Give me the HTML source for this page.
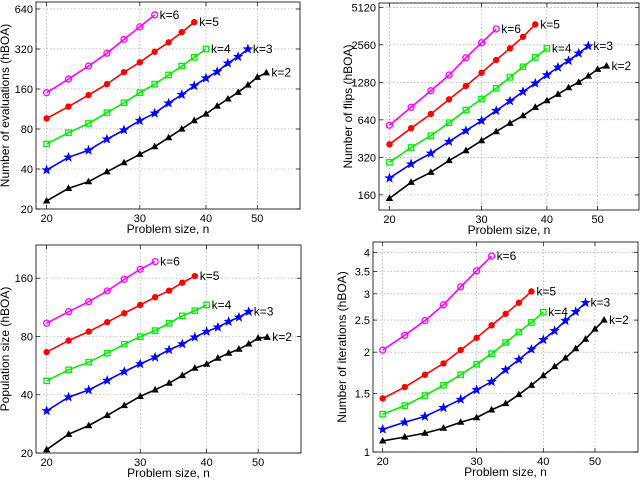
<!DOCTYPE html>
<html><head><meta charset="utf-8"><style>
html,body{margin:0;padding:0;background:#fff;}
svg{display:block;font-family:"Liberation Sans",sans-serif;}
</style></head><body>
<svg id="fig" width="640" height="480" viewBox="0 0 640 480"></svg>
<script>
const xValues = {
  k6: [20,22,24,26,28,30,32],
  k5: [20,22,24,26,28,30,32,34,36,38],
  k4: [20,22,24,26,28,30,32,34,36,38,40],
  k3: [20,22,24,26,28,30,32,34,36,38,40,42,44,46,48],
  k2: [20,22,24,26,28,30,32,34,36,38,40,42,44,46,48,50,52]
};
const evalK6 = [150,190,238,297,378,469,577];
const evalK5 = [96,118,144,174,214,254,305,359,428,509];
const evalK4 = [61.7,75,88,106,126,150,174,204,238,277,319];
const evalK3 = [39.3,49,55.3,67,78.6,92.4,105,125,145,169,193,216,250,280,319];
const evalK2 = [23,28.6,32.1,38.1,44.6,51.6,58.9,68.8,80,92.4,103.7,119.2,134.6,151,171.5,196,212];
const flipK6 = [579,807,1094,1466,2015,2660,3429];
const flipK5 = [407,548,713,934,1195,1527,1932,2398,2970,3735];
const flipK4 = [292,384,478,607,767,940,1146,1403,1705,2029,2398];
const flipK3 = [218,283,345,428,524,630,758,907,1077,1257,1466,1690,1910,2188,2504];
const flipK2 = [150,202,243,302,362,436,515,601,691,807,912,1026,1159,1280,1439,1628,1730];
const popK6 = [93.7,107.5,121,137.5,158,178,195];
const popK5 = [66.4,76.2,84.8,94.8,105.5,116.4,127.6,138,151.7,164];
const popK4 = [47.2,53.8,58.9,65.6,73,79.9,85.8,93.7,102.2,108.8,116.4];
const popK3 = [33,38.9,42.3,47.4,52.7,57.7,62.5,68.2,73.2,79.3,84.8,89.3,95.5,100.6,107.5];
const popK2 = [20.8,25,27.7,31.3,35.2,39.2,42.4,45.9,50.3,54.9,57.6,61.8,65.6,68.8,73.2,78.4,79.3];
const iterK6 = [2.03,2.25,2.49,2.78,3.15,3.52,3.90];
const iterK5 = [1.45,1.57,1.71,1.85,2.03,2.21,2.41,2.61,2.82,3.05];
const iterK4 = [1.30,1.38,1.48,1.59,1.71,1.84,1.98,2.14,2.30,2.46,2.64];
const iterK3 = [1.17,1.23,1.28,1.36,1.44,1.54,1.63,1.77,1.90,2.04,2.18,2.32,2.49,2.65,2.82];
const iterK2 = [1.08,1.11,1.14,1.18,1.23,1.27,1.34,1.40,1.49,1.59,1.70,1.81,1.92,2.05,2.19,2.35,2.50];
const xTicks = [20,30,40,50];
const evalTicks = [20,40,80,160,320,640];
const flipTicks = [160,320,640,1280,2560,5120];
const popTicks = [20,40,80,160];
const iterTicks = [1,1.5,2,2.5,3,3.5,4];
const seriesLabels = ["k=6","k=5","k=4","k=3","k=2"];

const NS="http://www.w3.org/2000/svg";
const svg=document.getElementById('fig');
function mk(tag,attrs,parent){const e=document.createElementNS(NS,tag);for(const k in attrs)e.setAttribute(k,attrs[k]);(parent||svg).appendChild(e);return e;}

const styles=[
 {color:"#ff00ff",marker:"ocircle"},
 {color:"#ff0000",marker:"fcircle"},
 {color:"#00ee00",marker:"osquare"},
 {color:"#0000ff",marker:"star"},
 {color:"#000000",marker:"triangle"}
];

function drawMarker(g,type,cx,cy,c){
  let m;
  if(type==="ocircle") m=mk('circle',{cx,cy,r:3,fill:'none',stroke:c,'stroke-width':1.3},g);
  else if(type==="fcircle") m=mk('circle',{cx,cy,r:2.7,fill:c,stroke:c},g);
  else if(type==="osquare") m=mk('rect',{x:cx-2.7,y:cy-2.7,width:5.4,height:5.4,fill:'none',stroke:c,'stroke-width':1.3},g);
  else if(type==="triangle") m=mk('polygon',{points:`${cx},${cy-4} ${cx-3.7},${cy+2.6} ${cx+3.7},${cy+2.6}`,fill:c},g);
  else {
    let p=[];for(let i=0;i<10;i++){const a=-Math.PI/2+i*Math.PI/5;const r=i%2?1.9:4.6;p.push((cx+r*Math.cos(a)).toFixed(1)+','+(cy+r*Math.sin(a)).toFixed(1));}
    m=mk('polygon',{points:p.join(' '),fill:c,stroke:c,'stroke-width':0.6},g);
  }
  
  
}

function panel(cfg){
  const {name,L,R,T,B,xmin,xmax,ymin,ymax,yTicks,ylabel,series}=cfg;
  const g=mk('g',{});
  
  
  const sx=v=>L+(Math.log(v/xmin))/Math.log(xmax/xmin)*(R-L);
  const sy=v=>B-(Math.log(v/ymin))/Math.log(ymax/ymin)*(B-T);
  mk('rect',{x:L,y:T,width:R-L,height:B-T,fill:'#fff'},g);
  xTicks.forEach(t=>{const x=sx(t);
    const gl=mk('line',{x1:x,x2:x,y1:T,y2:B,stroke:'#999','stroke-width':0.6,'stroke-dasharray':'1.5,2'},g);
    
    
    mk('line',{x1:x,x2:x,y1:B,y2:B-4,stroke:'#000','stroke-width':0.7},g);
    mk('line',{x1:x,x2:x,y1:T,y2:T+4,stroke:'#000','stroke-width':0.7},g);
    const tl=mk('text',{x:x,y:B+13,'font-size':11,'text-anchor':'middle',fill:'#000'},g);tl.textContent=t;
    
    
  });
  yTicks.forEach(t=>{const y=sy(t);
    const gl=mk('line',{x1:L,x2:R,y1:y,y2:y,stroke:'#999','stroke-width':0.6,'stroke-dasharray':'1.5,2'},g);
    
    
    mk('line',{x1:L,x2:L+4,y1:y,y2:y,stroke:'#000','stroke-width':0.7},g);
    mk('line',{x1:R,x2:R-4,y1:y,y2:y,stroke:'#000','stroke-width':0.7},g);
    const tl=mk('text',{x:L-3,y:y+4,'font-size':11,'text-anchor':'end',fill:'#000'},g);tl.textContent=t;
    
    
  });
  mk('rect',{x:L,y:T,width:R-L,height:B-T,fill:'none',stroke:'#000','stroke-width':0.8},g);
  const xl=mk('text',{x:(L+R)/2,y:B+24,'font-size':12,'text-anchor':'middle',fill:'#000'},g);xl.textContent='Problem size, n';
  
  
  const yx=L-27, yc=(T+B)/2;
  const yl=mk('text',{x:yx,y:yc,'font-size':12,'text-anchor':'middle',fill:'#000',transform:`rotate(-90 ${yx} ${yc})`},g);yl.textContent=ylabel;
  
  
  const keys=['k6','k5','k4','k3','k2'];
  series.forEach((vals,i)=>{
    const xs=xValues[keys[i]];const st=styles[i];
    const sg=mk('g',{},g);
    
    
    const pts=vals.map((v,j)=>sx(xs[j]).toFixed(1)+','+sy(v).toFixed(1)).join(' ');
    const pl=mk('polyline',{points:pts,fill:'none',stroke:st.color,'stroke-width':1.6},sg);
    
    
    vals.forEach((v,j)=>drawMarker(sg,st.marker,sx(xs[j]),sy(v),st.color));
    const lx=sx(xs[xs.length-1])+5, ly=sy(vals[vals.length-1])+4;
    const lab=mk('text',{x:lx,y:ly,'font-size':12,fill:'#000'},sg);lab.textContent=seriesLabels[i];
    
    
  });
}

panel({name:'evaluations-panel',L:36,R:300,T:2,B:209,xmin:19.1,xmax:60.2,ymin:20,ymax:722,yTicks:evalTicks,ylabel:'Number of evaluations (hBOA)',series:[evalK6,evalK5,evalK4,evalK3,evalK2]});
panel({name:'flips-panel',L:379,R:639,T:3,B:210,xmin:19.1,xmax:60,ymin:121,ymax:5543,yTicks:flipTicks,ylabel:'Number of flips (hBOA)',series:[flipK6,flipK5,flipK4,flipK3,flipK2]});
panel({name:'population-panel',L:36,R:301,T:245,B:453,xmin:19.1,xmax:60.2,ymin:20,ymax:237.6,yTicks:popTicks,ylabel:'Population size (hBOA)',series:[popK6,popK5,popK4,popK3,popK2]});
panel({name:'iterations-panel',L:373,R:638,T:242,B:452,xmin:19.18,xmax:60.2,ymin:1,ymax:4.30,yTicks:iterTicks,ylabel:'Number of iterations (hBOA)',series:[iterK6,iterK5,iterK4,iterK3,iterK2]});
</script>
</body></html>
